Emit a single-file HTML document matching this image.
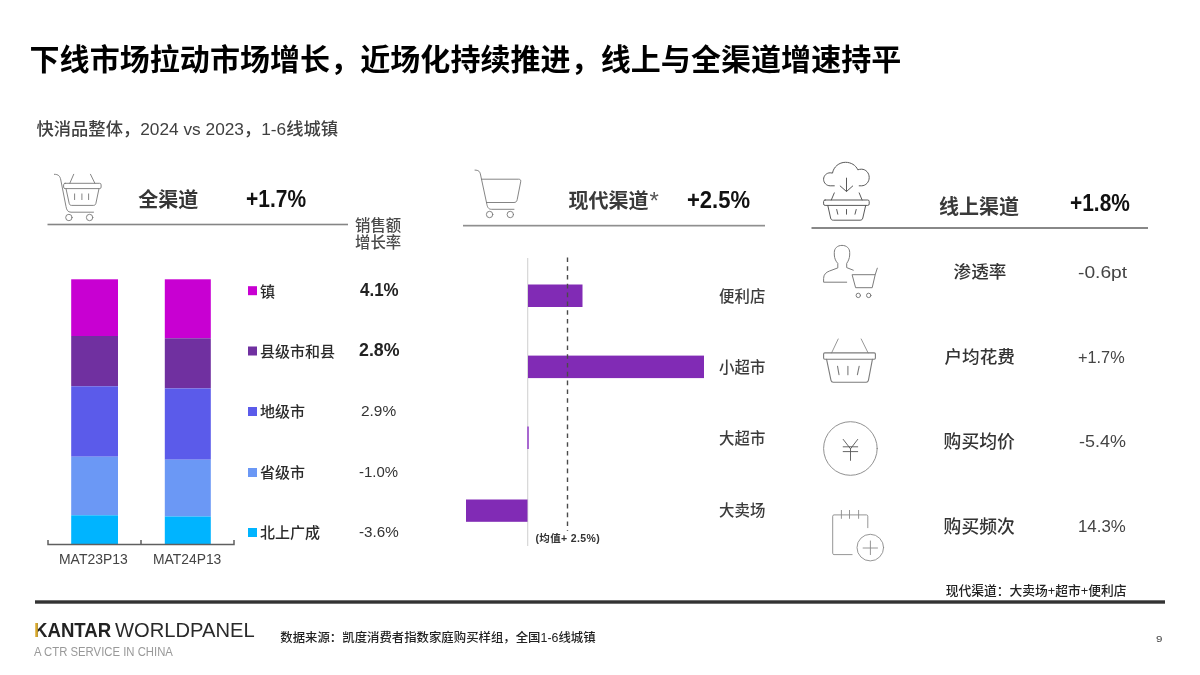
<!DOCTYPE html>
<html lang="zh-CN">
<head>
<meta charset="utf-8">
<title>下线市场拉动市场增长</title>
<style>
html,body{margin:0;padding:0;background:#fff;}
body{width:1200px;height:675px;position:relative;overflow:hidden;
  font-family:"Liberation Sans","Noto Sans CJK SC",sans-serif;color:#222;}
.t{position:absolute;white-space:nowrap;line-height:1;}
.b{font-weight:700;}
.m{font-weight:500;}
.c{text-align:center;}
.r{text-align:right;}
.box{position:absolute;}
.x{transform-origin:0 0;}
svg{position:absolute;left:0;top:0;}
</style>
</head>
<body>

<!-- Title -->
<div class="t b" id="title" style="left:29.5px;top:44.5px;font-size:30px;color:#000;letter-spacing:0.065px;">下线市场拉动市场增长，近场化持续推进，线上与全渠道增速持平</div>
<div class="t m" id="sub" style="left:36.5px;top:120.5px;font-size:17.3px;color:#404040;">快消品整体，2024 vs 2023，1-6线城镇</div>

<!-- Shapes layer -->
<svg width="1200" height="675" viewBox="0 0 1200 675" id="shapes">
  <!-- header rules -->
  <rect x="47.5" y="223.7" width="300.5" height="1.6" fill="#858585"/>
  <rect x="463" y="224.8" width="302" height="1.7" fill="#8f8f8f"/>
  <rect x="811.5" y="227.4" width="336.5" height="1.2" fill="#3a3a3a"/>

  <!-- stacked bars -->
  <g id="bar1">
    <rect x="71.2" y="279.3" width="46.8" height="56.7" fill="#c800d2"/>
    <rect x="71.2" y="336" width="46.8" height="50.3" fill="#7030a0"/>
    <rect x="71.2" y="386.3" width="46.8" height="70.4" fill="#5b5bea"/>
    <rect x="71.2" y="456.7" width="46.8" height="58.6" fill="#6b98f5"/>
    <rect x="71.2" y="515.3" width="46.8" height="28.9" fill="#00b4ff"/>
  </g>
  <g id="bar2">
    <rect x="164.8" y="279.3" width="46" height="59" fill="#c800d2"/>
    <rect x="164.8" y="338.3" width="46" height="50.1" fill="#7030a0"/>
    <rect x="164.8" y="388.4" width="46" height="71.3" fill="#5b5bea"/>
    <rect x="164.8" y="459.7" width="46" height="56.8" fill="#6b98f5"/>
    <rect x="164.8" y="516.5" width="46" height="27.7" fill="#00b4ff"/>
  </g>
  <path d="M48 540 V544.6 H234 V540 M141 540 V544.6" fill="none" stroke="#5f5f5f" stroke-width="1.5"/>

  <!-- legend squares -->
  <rect x="248" y="286.2" width="9" height="9" fill="#c800d2"/>
  <rect x="248" y="346.5" width="9" height="9" fill="#7030a0"/>
  <rect x="248" y="407" width="9" height="9" fill="#5b5bea"/>
  <rect x="248" y="468" width="9" height="9" fill="#6b98f5"/>
  <rect x="248" y="528" width="9" height="9" fill="#00b4ff"/>

  <!-- middle bar chart -->
  <rect x="527" y="258" width="1.3" height="288" fill="#d9d9d9"/>
  <rect x="528" y="284.5" width="54.5" height="22.5" fill="#812bb5"/>
  <rect x="528" y="355.6" width="176" height="22.5" fill="#812bb5"/>
  <rect x="527" y="426.5" width="2" height="22.5" fill="#a868d0"/>
  <rect x="466" y="499.5" width="61.5" height="22.3" fill="#812bb5"/>
  <path d="M567.5 257.4 V531" stroke="#4a4a4a" stroke-width="1.4" stroke-dasharray="4.6 4.2" fill="none"/>


  <!-- icons -->
  <g id="icons" fill="none" stroke="#777" stroke-width="0.9" stroke-linecap="round" stroke-linejoin="round">
    <!-- left: basket on cart -->
    <g id="ic-all">
      <path d="M54.4 174.3 C58.5 174.3 60 176 60.8 180 L66 206.5 C66.6 210 67.8 212.2 71 212.2 H93.5"/>
      <rect x="63.6" y="183.3" width="37.5" height="5.3" rx="1.5"/>
      <path d="M66 188.6 L69.2 203.4 C69.5 204.8 70.3 205.4 71.6 205.4 H93.4 C94.7 205.4 95.5 204.8 95.9 203.4 L99 188.6"/>
      <path d="M73.7 174.3 L69.8 183.3 M90.5 174.3 L94.9 183.3"/>
      <path d="M74.6 193.9 V199.6 M81.9 193.9 V199.6 M88.6 193.9 V199.6"/>
      <circle cx="68.9" cy="217.5" r="3.2"/>
      <circle cx="89.6" cy="217.5" r="3.2"/>
    </g>
    <!-- middle: cart -->
    <g id="ic-modern">
      <path d="M475 170.1 C478.8 170.1 480 171.6 480.6 175 L486.6 203 C487.3 207 488.2 209.3 491.5 209.3 H514"/>
      <path d="M481.5 179.2 H518.6 C520.4 179.2 521 180.2 520.7 181.8 L517.2 199.6 C516.8 201.6 515.8 202.5 514 202.5 H486.5"/>
      <circle cx="489.6" cy="214.5" r="3.2"/>
      <circle cx="510.3" cy="214.5" r="3.2"/>
    </g>
    <!-- right: cloud + basket -->
    <g id="ic-online" stroke="#5a5a5a" stroke-width="1">
      <path d="M834.3 185.8 H830.2 C826.5 185.8 823.6 182.9 823.6 179.3 C823.6 175.7 826.5 172.8 830.2 172.8 C831 172.8 831.8 172.9 832.5 173.1 C833.6 166.9 839 162.3 845.5 162.3 C851 162.3 855.8 165.2 857.8 169.8 C859 169.4 860.3 169.2 861.5 169.2 C865.8 169.2 869.2 172.9 869.2 177.5 C869.2 182.1 865.8 185.8 861.5 185.8 H859.2"/>
      <path d="M846.5 178.1 V191.3 M840.2 186 L846.5 191.5 L852.7 186"/>
      <path d="M834.3 192.9 L831.3 200 M859.2 192.9 L862.1 200"/>
      <rect x="823.6" y="200" width="45.6" height="5.4" rx="1.5"/>
      <path d="M827.8 205.4 L830.6 218 C831 219.6 831.8 220.2 833.3 220.2 H860.1 C861.6 220.2 862.4 219.6 862.8 218 L865.7 205.4"/>
      <path d="M836.7 209.5 L837.8 214.2 M846.5 209.5 V214.2 M856.2 209.5 L855 214.2"/>
    </g>
    <!-- person + cart -->
    <g id="ic-pen" stroke="#7c7c7c" stroke-width="1">
      <path d="M846.7 282.2 H823.6 V278.5 C823.6 274.5 826 272.3 829.5 271 L837.8 267.9 V263.4 C836 261.5 834.5 258.7 834.3 255 V252.5 C834.3 248.3 837.4 245.4 842 245.4 C846.6 245.4 849.7 248.3 849.7 252.5 V255 C849.5 258.7 848 261.5 846.7 263.4 V267.6 L853.3 270.2"/>
      <path d="M877.3 268.2 L875.2 274.7 H852.1 L855.6 287.7 H872.2 L875.2 274.7"/>
      <circle cx="858.3" cy="295.4" r="2.2"/>
      <circle cx="868.7" cy="295.4" r="2.2"/>
    </g>
    <!-- basket -->
    <g id="ic-basket" stroke="#7c7c7c" stroke-width="1.1">
      <path d="M838.2 339 L831.6 352.9 M861.2 339 L868.1 352.9" stroke-width="0.8"/>
      <rect x="823.6" y="352.9" width="51.8" height="6.4" rx="1.2"/>
      <path d="M826.6 359.3 L831 380.3 C831.3 381.6 832 382.2 833.2 382.2 H866.2 C867.4 382.2 868.1 381.6 868.4 380.3 L872.4 359.3"/>
      <path d="M837.5 366.2 L839 374.7 M847.9 366.2 V374.7 M859.2 366.2 L857.4 374.7"/>
    </g>
    <!-- yen -->
    <g id="ic-yen" stroke="#858585" stroke-width="0.9">
      <circle cx="850.4" cy="448.5" r="26.8"/>
      <path d="M843.2 439.4 L850.5 448.8 L857.7 439.4 M843.2 446.8 H857.7 M843.2 451.6 H857.7 M850.5 448.8 V460.4" stroke="#555"/>
    </g>
    <!-- calendar plus -->
    <g id="ic-cal" stroke="#8a8a8a" stroke-width="0.9">
      <path d="M852.1 554.6 H834 C833.2 554.6 832.7 554.1 832.7 553.3 V516.2 C832.7 515.4 833.2 514.9 834 514.9 H866.5 C867.3 514.9 867.8 515.4 867.8 516.2 V527.7"/>
      <path d="M841.4 510.4 V518.4 M849.5 510.4 V518.4 M858.6 510.4 V518.4"/>
      <circle cx="870.3" cy="547.6" r="13.3"/>
      <path d="M863.1 548 H877.5 M870.4 541 V554.6"/>
    </g>
  </g>

  <!-- footer rule -->
  <rect x="35" y="600.3" width="1130" height="3.4" fill="#333"/>
</svg>

<!-- Left header -->
<div class="t b" style="left:138.3px;top:189.6px;font-size:20px;color:#363636;">全渠道</div>
<div class="t b" style="left:245.9px;top:186.8px;font-size:23.8px;transform:scaleX(0.881);transform-origin:0 0;color:#111;">+1.7%</div>
<div class="t m" style="left:355px;top:216.7px;font-size:15.4px;line-height:17.2px;color:#4a4a4a;white-space:normal;width:60px;">销售额<br>增长率</div>

<!-- legend -->
<div class="t m" style="left:260px;top:283.7px;font-size:15px;color:#2b2b2b;">镇</div>
<div class="t m" style="left:260px;top:343.7px;font-size:15px;color:#2b2b2b;">县级市和县</div>
<div class="t m" style="left:260px;top:403.7px;font-size:15px;color:#2b2b2b;">地级市</div>
<div class="t m" style="left:260px;top:464.7px;font-size:15px;color:#2b2b2b;">省级市</div>
<div class="t m" style="left:260px;top:524.7px;font-size:15px;color:#2b2b2b;">北上广成</div>

<div class="t b" style="left:359.7px;top:279.8px;font-size:19px;transform:scaleX(0.892);transform-origin:0 0;color:#222;">4.1%</div>
<div class="t b" style="left:358.5px;top:340.1px;font-size:19px;transform:scaleX(0.936);transform-origin:0 0;color:#222;">2.8%</div>
<div class="t" style="left:361.0px;top:404.0px;font-size:14px;transform:scaleX(1.102);transform-origin:0 0;color:#333;">2.9%</div>
<div class="t" style="left:358.8px;top:464.9px;font-size:14px;transform:scaleX(1.066);transform-origin:0 0;color:#333;">-1.0%</div>
<div class="t" style="left:358.8px;top:524.9px;font-size:14px;transform:scaleX(1.085);transform-origin:0 0;color:#333;">-3.6%</div>

<div class="t" style="left:58.9px;top:553.3px;font-size:13.8px;transform:scaleX(1.011);transform-origin:0 0;color:#444;">MAT23P13</div>
<div class="t" style="left:153.1px;top:553.3px;font-size:13.8px;transform:scaleX(1.005);transform-origin:0 0;color:#444;">MAT24P13</div>

<!-- Middle header -->
<div class="t b" style="left:568.5px;top:190.5px;font-size:20px;color:#3a3a3a;">现代渠道</div>
<div class="t" style="left:649.5px;top:188.9px;font-size:24px;color:#555;">*</div>
<div class="t b" style="left:687.4px;top:188.4px;font-size:23.8px;transform:scaleX(0.926);transform-origin:0 0;color:#111;">+2.5%</div>

<div class="t r m" style="left:679.3px;width:86px;top:288.5px;font-size:15.4px;color:#3c3c3c;">便利店</div>
<div class="t r m" style="left:679.3px;width:86px;top:359.5px;font-size:15.4px;color:#3c3c3c;">小超市</div>
<div class="t r m" style="left:679.3px;width:86px;top:430.5px;font-size:15.4px;color:#3c3c3c;">大超市</div>
<div class="t r m" style="left:679.3px;width:86px;top:502.5px;font-size:15.4px;color:#3c3c3c;">大卖场</div>
<div class="t b" style="left:535.5px;top:533px;font-size:10.5px;color:#333;letter-spacing:0.35px;">(均值+ 2.5%)</div>

<!-- Right header -->
<div class="t b" style="left:939px;top:196.5px;font-size:20px;color:#3a3a3a;">线上渠道</div>
<div class="t b" style="left:1069.5px;top:190.9px;font-size:23.8px;transform:scaleX(0.879);transform-origin:0 0;color:#111;">+1.8%</div>

<div class="t c m" style="left:920px;width:120px;top:263.5px;font-size:17.6px;color:#333;">渗透率</div>
<div class="t c m" style="left:919.7px;width:120px;top:349px;font-size:17.6px;color:#333;">户均花费</div>
<div class="t c m" style="left:919.2px;width:120px;top:434.3px;font-size:17.8px;color:#333;">购买均价</div>
<div class="t c m" style="left:919.2px;width:120px;top:519.3px;font-size:17.8px;color:#333;">购买频次</div>

<div class="t" style="left:1078.1px;top:265px;font-size:15.6px;transform:scaleX(1.231);transform-origin:0 0;color:#444;">-0.6pt</div>
<div class="t" style="left:1078.1px;top:349.8px;font-size:15.8px;transform:scaleX(1.031);transform-origin:0 0;color:#444;">+1.7%</div>
<div class="t" style="left:1079.2px;top:434.1px;font-size:15.8px;transform:scaleX(1.136);transform-origin:0 0;color:#444;">-5.4%</div>
<div class="t" style="left:1078.0px;top:518.7px;font-size:15.8px;transform:scaleX(1.066);transform-origin:0 0;color:#444;">14.3%</div>

<div class="t" style="left:945.8px;top:584.8px;font-size:12.75px;font-weight:500;color:#222;">现代渠道：大卖场+超市+便利店</div>

<!-- Footer -->
<div class="t b" id="logo1" style="left:33.7px;top:619.0px;font-size:21px;transform:scaleX(0.887);transform-origin:0 0;color:#222;"><span style="background:linear-gradient(90deg,#d8a82a 0,#d8a82a 29%,#222 29%,#222 100%);-webkit-background-clip:text;background-clip:text;color:transparent;-webkit-text-fill-color:transparent;">K</span>ANTAR</div>
<div class="t" id="logo2" style="left:114.8px;top:619.0px;font-size:21px;transform:scaleX(0.96);transform-origin:0 0;color:#2a2a2a;">WORLDPANEL</div>
<div class="t" style="left:34.4px;top:645.8px;font-size:12px;transform:scaleX(0.944);transform-origin:0 0;color:#999;">A CTR SERVICE IN CHINA</div>
<div class="t" style="left:280.3px;top:631.8px;font-size:12.4px;font-weight:500;color:#222;">数据来源：凯度消费者指数家庭购买样组，全国1-6线城镇</div>
<div class="t" style="left:1156.4px;top:634.4px;font-size:9.5px;transform:scaleX(1.213);transform-origin:0 0;color:#444;">9</div>

</body>
</html>
